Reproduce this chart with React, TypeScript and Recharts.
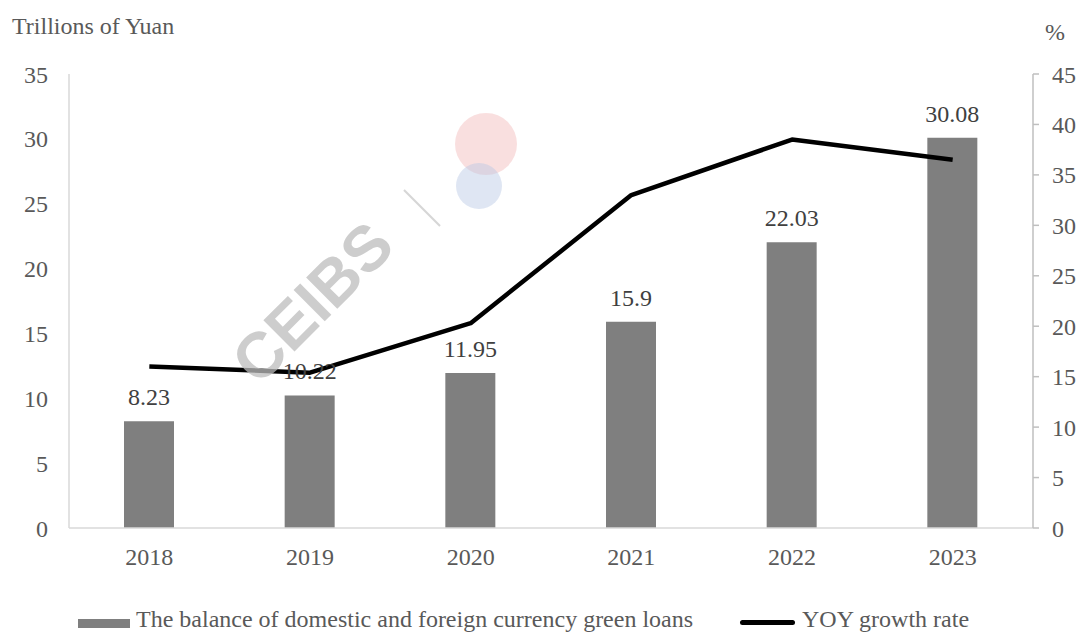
import React from 'react';
import { ComposedChart, Bar, Line, XAxis, YAxis, LabelList, Legend } from 'recharts';

const years = ['2018', '2019', '2020', '2021', '2022', '2023'];
const balance = [8.23, 10.22, 11.95, 15.9, 22.03, 30.08];
const growth = [16.0, 15.4, 20.3, 33.0, 38.5, 36.5];
const leftTicks = [0, 5, 10, 15, 20, 25, 30, 35];
const rightTicks = [0, 5, 10, 15, 20, 25, 30, 35, 40, 45];

const barName = 'The balance of domestic and foreign currency green loans';
const lineName = 'YOY growth rate';

const data = years.map((y, i) => ({ year: y, balance: balance[i], growth: growth[i] }));

const FONT = '"Liberation Serif", "Times New Roman", serif';
const TXT = '#595959';
const FS = 24;

const LegendContent = () => (
  <div style={{ position: 'relative', width: 1078, height: 30, fontFamily: FONT, fontSize: FS, color: TXT }}>
    <div style={{ position: 'absolute', left: 78, top: 14, width: 52, height: 9, background: '#7f7f7f' }} />
    <span style={{ position: 'absolute', left: 136, top: 0, lineHeight: '28px', whiteSpace: 'nowrap' }}>{barName}</span>
    <div style={{ position: 'absolute', left: 740, top: 15, width: 55, height: 5, borderRadius: 3, background: '#000' }} />
    <span style={{ position: 'absolute', left: 802, top: 0, lineHeight: '28px', whiteSpace: 'nowrap' }}>{lineName}</span>
  </div>
);

export default function App() {
  return (
    <div style={{ position: 'absolute', left: 0, top: 0, width: 1078, height: 633, background: '#fff', fontFamily: FONT }}>
      <div style={{ position: 'absolute', left: 12, top: 13, fontSize: FS, color: TXT, lineHeight: '26px', whiteSpace: 'nowrap' }}>Trillions of Yuan</div>
      <div style={{ position: 'absolute', left: 1045, top: 19, fontSize: FS, color: TXT, lineHeight: '26px' }}>%</div>
      <ComposedChart
        width={1078}
        height={633}
        data={data}
        margin={{ top: 74, right: 0, bottom: 35, left: 0 }}
        barCategoryGap={0}
      >
        <XAxis
          dataKey="year"
          axisLine={{ stroke: '#d9d9d9', strokeWidth: 1.5 }}
          tickLine={false}
          tickSize={0}
          tickMargin={20}
          height={40}
          tick={{ fill: TXT, fontSize: FS, fontFamily: FONT }}
        />
        <YAxis
          yAxisId="left"
          orientation="left"
          domain={[0, 35]}
          ticks={leftTicks}
          width={69}
          axisLine={{ stroke: '#d9d9d9', strokeWidth: 1.5 }}
          tickLine={false}
          tickSize={0}
          tickMargin={21}
          interval={0}
          tick={{ fill: TXT, fontSize: FS, fontFamily: FONT }}
        />
        <YAxis
          yAxisId="right"
          orientation="right"
          domain={[0, 45]}
          ticks={rightTicks}
          width={45}
          axisLine={{ stroke: '#bfbfbf', strokeWidth: 1.5 }}
          tickLine={{ stroke: '#bfbfbf', strokeWidth: 1.5 }}
          tickSize={6}
          tickMargin={13}
          interval={0}
          tick={{ fill: TXT, fontSize: FS, fontFamily: FONT }}
        />
        <Legend
          verticalAlign="bottom"
          height={30}
          content={<LegendContent />}
          wrapperStyle={{ left: 0, top: 605, width: 1078, height: 30 }}
        />
        <Bar yAxisId="left" dataKey="balance" name={barName} fill="#7f7f7f" barSize={50} isAnimationActive={false}>
          <LabelList dataKey="balance" position="top" offset={16} fill="#404040" fontSize={FS} fontFamily={FONT} />
        </Bar>
        <Line
          yAxisId="right"
          type="linear"
          dataKey="growth"
          name={lineName}
          stroke="#000"
          strokeWidth={4.5}
          dot={false}
          activeDot={false}
          strokeLinejoin="round"
          isAnimationActive={false}
        />
      </ComposedChart>
      <svg width={1078} height={633} style={{ position: 'absolute', left: 0, top: 0, pointerEvents: 'none' }}>
        <text
          x={328}
          y={318}
          transform="rotate(-45 328 318)"
          textAnchor="middle"
          fontFamily='"Liberation Sans", Arial, sans-serif'
          fontWeight="bold"
          fontSize={64}
          fill="#bdbdbd"
          opacity={0.75}
        >
          CEIBS
        </text>
        <line x1={404} y1={190} x2={440} y2={226} stroke="#cccccc" strokeWidth={2} opacity={0.8} />
        <circle cx={486} cy={144} r={31} fill="#f2b8b8" opacity={0.45} />
        <circle cx={479} cy={186} r={23} fill="#b8c8e4" opacity={0.45} />
      </svg>
    </div>
  );
}
